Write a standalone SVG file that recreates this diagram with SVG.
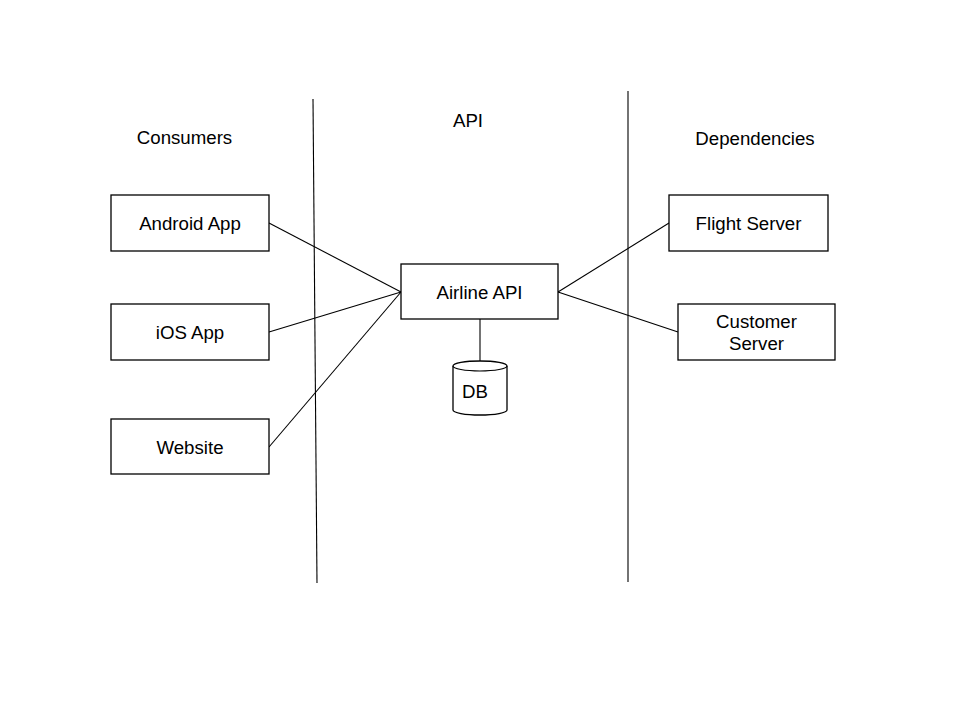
<svg xmlns="http://www.w3.org/2000/svg" width="960" height="720" viewBox="0 0 960 720">
<style>
.box{fill:#fff;stroke:#000;stroke-width:1.3}
.ln{stroke:#000;stroke-width:1.1;fill:none}
text{font-family:"Liberation Sans",Arial,sans-serif;font-size:18.67px;fill:#000;text-anchor:middle}
</style>
<rect width="960" height="720" fill="#fff"/>
<g id="dividers">
<line class="ln" x1="313" y1="99" x2="317" y2="583"/>
<line class="ln" x1="628" y1="91" x2="628" y2="582"/>
</g>
<g id="headers">
<text x="184.5" y="144">Consumers</text>
<text x="468" y="127">API</text>
<text x="755" y="145">Dependencies</text>
</g>
<g id="connectors">
<line class="ln" x1="269" y1="223" x2="401" y2="292"/>
<line class="ln" x1="269" y1="332" x2="401" y2="292"/>
<line class="ln" x1="269" y1="447" x2="401" y2="292"/>
<line class="ln" x1="558" y1="292" x2="669" y2="223"/>
<line class="ln" x1="558" y1="292" x2="678" y2="332"/>
<line class="ln" x1="480" y1="319" x2="480" y2="361"/>
</g>
<g id="android"><rect class="box" x="111" y="195" width="158" height="56"/><text x="190" y="230">Android App</text></g>
<g id="ios"><rect class="box" x="111" y="304" width="158" height="56"/><text x="190" y="339">iOS App</text></g>
<g id="website"><rect class="box" x="111" y="419" width="158" height="55"/><text x="190" y="454">Website</text></g>
<g id="airline"><rect class="box" x="401" y="264" width="157" height="55"/><text x="479.5" y="299">Airline API</text></g>
<g id="db">
<path class="box" d="M453,366 L453,410 A27,5 0 0 0 507,410 L507,366 A27,5 0 0 0 453,366 Z"/>
<path class="ln" d="M453,366 A27,5 0 0 0 507,366" stroke-width="1.3"/>
<text x="475" y="398">DB</text>
</g>
<g id="flight"><rect class="box" x="669" y="195" width="159" height="56"/><text x="748.5" y="230">Flight Server</text></g>
<g id="customer"><rect class="box" x="678" y="304" width="157" height="56"/><text x="756.5" y="328">Customer</text><text x="756.5" y="350">Server</text></g>
</svg>
